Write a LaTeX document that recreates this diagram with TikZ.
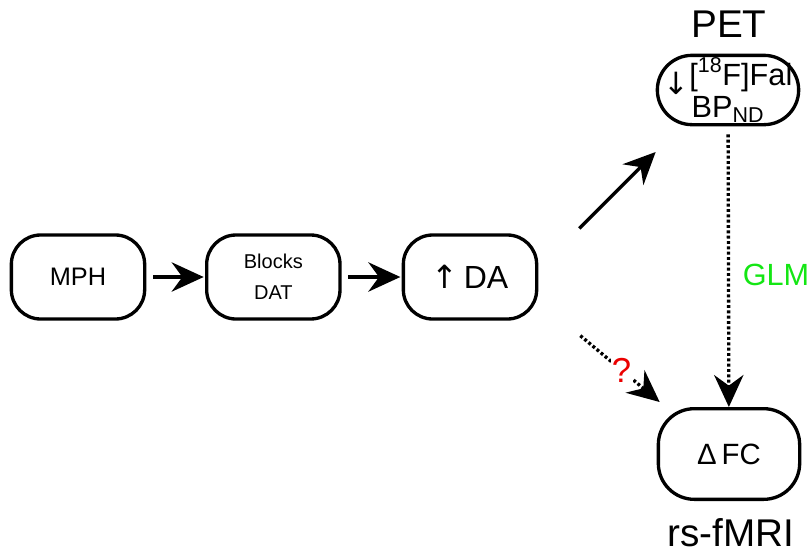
\documentclass[tikz,border=0pt]{standalone}
\usepackage{fontspec}
\setmainfont{Liberation Sans}
\newfontfamily\arrowfont{DejaVu Sans}
\usepackage{tikz}
\usetikzlibrary{arrows.meta, positioning, calc}
\definecolor{glmgreen}{RGB}{20,230,20}
\definecolor{askred}{RGB}{235,0,0}
\tikzset{
  stage/.style={rectangle, rounded corners=22pt, draw=black, line width=2.5pt, minimum width=100pt, minimum height=63pt, align=center, inner sep=2pt},
  arrowline/.style={-{Stealth[length=24pt, width=22pt, inset=8pt]}, line width=2.5pt},
  dotarrow/.style={arrowline, dash pattern=on 2.2pt off 1.8pt},
  caption/.style={font=\fontsize{29}{32}\selectfont},
}

\begin{document}
\begin{tikzpicture}[x=0.75pt, y=-0.75pt]
\useasboundingbox (0,0) rectangle (810,558);
% chain along the bottom row
\node[stage, font=\fontsize{19}{22}\selectfont] (mph) at (78,277) {MPH};
\node[stage, right=44pt of mph, font=\fontsize{15}{23}\selectfont] (dat) {Blocks\\DAT};
\node[stage, right=45pt of dat, font=\fontsize{24}{28}\selectfont] (da) {{\arrowfont ↑}\,DA};
% imaging boxes
\node[stage, rounded corners=26pt, minimum width=106pt, minimum height=52pt, inner sep=0pt, font=\fontsize{23}{24}\selectfont] (pet) at (728,90) {\raisebox{-7pt}{\arrowfont ↓}[\textsuperscript{18}F]Fal\\BP\textsubscript{ND}};
\node[stage, rounded corners=27pt, minimum width=106pt, minimum height=68pt, font=\fontsize{22}{24}\selectfont] (fc) at (729,454) {Δ\,FC};
\node[caption] (petlbl) at (729,24) {PET};
\node[caption] (mrilbl) at (731,533) {rs-fMRI};

\draw[arrowline, shorten <=5pt, shorten >=1pt] (mph) -- (dat);
\draw[arrowline, shorten <=5pt, shorten >=1pt] (dat) -- (da);
\draw[arrowline] ($(da.north east)+(41,-5)$) -- ($(pet.west)+(0,62)$);
\draw[dotarrow] ($(da.south east)+(42,15)$) -- node[pos=0.52, fill=white, inner sep=1pt, font=\fontsize{26}{28}\selectfont, text=askred] (ask) {?} ($(fc.north west)+(3,-5)$);
\draw[dotarrow, shorten <=6pt] (pet) -- (fc);
\node[font=\fontsize{23}{26}\selectfont, text=glmgreen] (glm) at (776,275) {GLM};
\end{tikzpicture}
\end{document}
